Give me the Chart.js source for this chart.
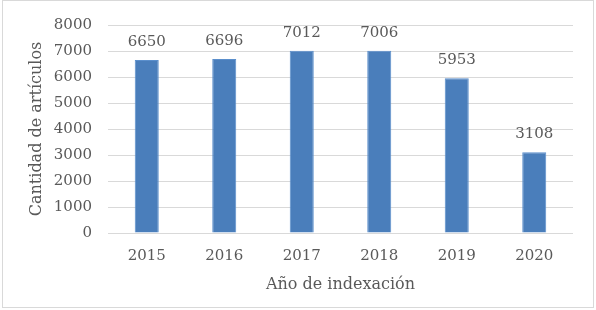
<!DOCTYPE html>
<html>
<head>
<meta charset="utf-8">
<script src="https://cdn.jsdelivr.net/npm/chart.js@4/dist/chart.umd.min.js"></script>
<style>
html,body{margin:0;padding:0;background:#fff;}
#wrap{position:relative;width:596px;height:310px;}
</style>
</head>
<body>
<div id="wrap"><canvas id="c" width="596" height="310"></canvas></div>
<script>
const categories = ['2015', '2016', '2017', '2018', '2019', '2020'];
const articulos = [6650, 6696, 7012, 7006, 5953, 3108];
const yTicks = [0, 1000, 2000, 3000, 4000, 5000, 6000, 7000, 8000];
const xTitle = 'Año de indexación';
const yTitle = 'Cantidad de artículos';

const FONT = '"DejaVu Serif", serif';
const TEXT = '#595959';

const CA = {left: 108, right: 573, top: 22, bottom: 233};

const labelsPlugin = {
  id: 'barLabels',
  afterDatasetsDraw(chart) {
    const ctx = chart.ctx;
    const meta = chart.getDatasetMeta(0);
    ctx.save();
    ctx.font = '15px ' + FONT;
    ctx.fillStyle = TEXT;
    ctx.textAlign = 'center';
    ctx.textBaseline = 'middle';
    meta.data.forEach((bar, i) => {
      ctx.fillText(String(chart.data.datasets[0].data[i]), bar.x, bar.y - 18);
    });
    ctx.restore();
  }
};

const borderPlugin = {
  id: 'outerBorder',
  beforeDraw(chart) {
    const ctx = chart.ctx;
    ctx.save();
    ctx.fillStyle = '#fff';
    ctx.fillRect(0, 0, chart.width, chart.height);
    ctx.strokeStyle = '#d9d9d9';
    ctx.lineWidth = 1;
    ctx.strokeRect(2.5, 0.5, 591, 307);
    ctx.restore();
  }
};

new Chart(document.getElementById('c'), {
  type: 'bar',
  data: {
    labels: categories,
    datasets: [{
      data: articulos,
      backgroundColor: '#4a7ebb',
      borderColor: '#5b8fcc',
      borderWidth: 1,
      categoryPercentage: 1,
      barPercentage: 0.31
    }]
  },
  options: {
    responsive: false,
    animation: false,
    layout: {padding: {left: 0, right: 596 - CA.right, top: CA.top, bottom: 0}},
    plugins: {legend: {display: false}, tooltip: {enabled: false}},
    scales: {
      x: {
        grid: {display: false, drawTicks: false},
        border: {display: false},
        ticks: {color: TEXT, font: {family: FONT, size: 15}, padding: 14, maxRotation: 0},
        title: {display: true, text: xTitle, color: TEXT, font: {family: FONT, size: 16}, padding: {top: 0, bottom: 16}},
        afterFit(s) { s.height = 310 - CA.bottom; }
      },
      y: {
        min: 0, max: 8000,
        afterBuildTicks(s) { s.ticks = yTicks.map(v => ({value: v})); },
        grid: {color: '#d9d9d9', drawTicks: false, lineWidth: 1},
        border: {display: false},
        ticks: {color: TEXT, font: {family: FONT, size: 15}, padding: 16, callback: v => String(v)},
        title: {display: true, text: yTitle, color: TEXT, font: {family: FONT, size: 16}, padding: {top: 27, bottom: 0}},
        afterFit(s) { s.width = CA.left; }
      }
    }
  },
  plugins: [borderPlugin, labelsPlugin]
});
</script>
</body>
</html>
